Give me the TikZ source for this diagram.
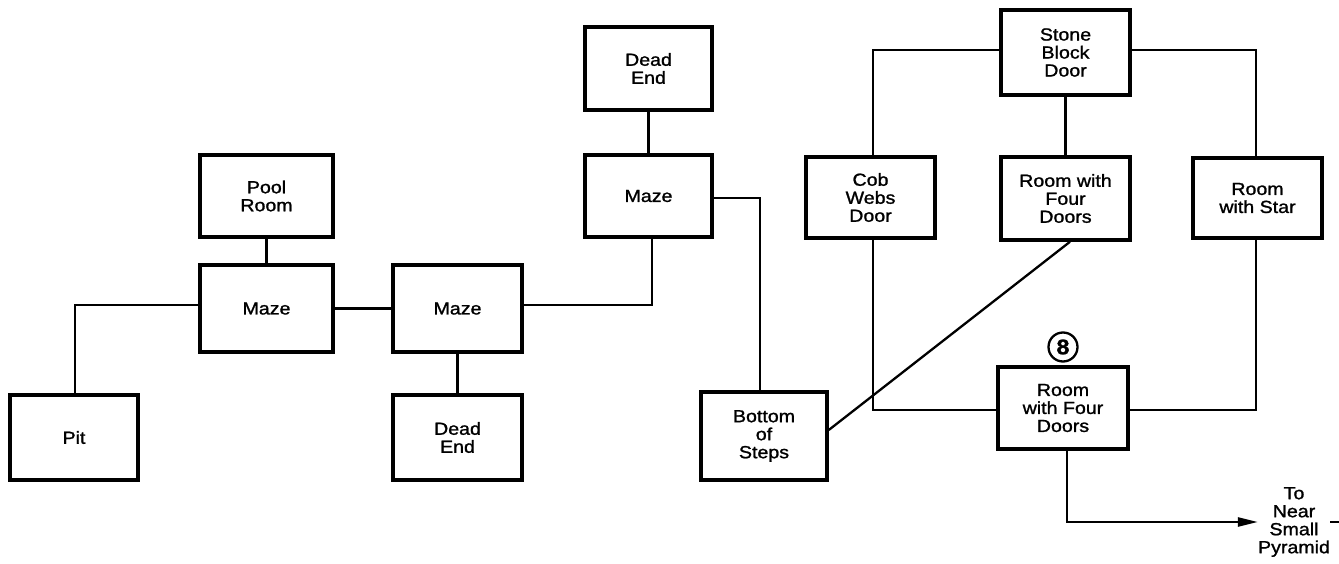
\documentclass[tikz,border=0pt]{standalone}
\usepackage{fontspec}
\setmainfont{Liberation Sans}[FakeStretch=1.12,FakeBold=1.3]
\usetikzlibrary{arrows.meta}
\begin{document}
\begin{tikzpicture}[x=1pt,y=-1pt,
  room/.style={draw,line width=3.5pt,inner sep=0pt,align=center,
    font=\fontsize{17.5}{18}\selectfont},
  link/.style={line width=2.3pt},
  lbl/.style={inner sep=0pt,align=center,font=\fontsize{17.5}{18}\selectfont}]
\useasboundingbox (0,0) rectangle (1339,564);
% boxes
\node[room,minimum width=127pt,minimum height=83pt] (deadtop) at (648.5,68.5) {Dead\\End};
\node[room,minimum width=133pt,minimum height=82pt] (pool) at (266.5,196) {Pool\\Room};
\node[room,minimum width=133pt,minimum height=87pt] (maze1) at (266.5,308.5) {Maze};
\node[room,minimum width=128pt,minimum height=85pt] (pit) at (74,437.5) {Pit};
\node[room,minimum width=129pt,minimum height=87pt] (maze2) at (457.5,308.5) {Maze};
\node[room,minimum width=129pt,minimum height=85pt] (deadlow) at (457.5,437.5) {Dead\\End};
\node[room,minimum width=127pt,minimum height=82pt] (maze3) at (648.5,196) {Maze};
\node[room,minimum width=126pt,minimum height=88pt] (bottom) at (764,436) {Bottom\\of\\Steps};
\node[room,minimum width=129pt,minimum height=81pt] (cob) at (870.5,197.5) {Cob\\Webs\\Door};
\node[room,minimum width=129pt,minimum height=85pt] (stone) at (1065.5,52.5) {Stone\\Block\\Door};
\node[room,minimum width=129pt,minimum height=83pt] (rwfd) at (1065.5,198.5) {Room with\\Four\\Doors};
\node[room,minimum width=129pt,minimum height=80pt] (star) at (1257.5,198) {Room\\with Star};
\node[room,minimum width=130pt,minimum height=82pt] (rwfde) at (1063,408) {Room\\with Four\\Doors};
\node[circle,draw,line width=2.3pt,minimum size=29pt,inner sep=0pt,
  font=\fontsize{21}{21}\selectfont\bfseries] (eight) at (1063,347) {8};
\node[lbl] (pyr) at (1294,522) {To\\Near\\Small\\Pyramid};
% junction coordinates
\coordinate (j1) at (75,305);
\coordinate (j2) at (652,305);
\coordinate (j3) at (760,198);
\coordinate (j4) at (873,50);
\coordinate (j5) at (1256,50);
\coordinate (j6) at (873,410);
\coordinate (j7) at (1256,410);
\coordinate (j8) at (1067,522);
\coordinate (dashend) at (1339,522);
% connectors
\draw[link] (pool.south) -- (maze1.north);
\draw[link] (maze1.west |- j1) -- (j1) -- (pit.north -| j1);
\draw[link] (maze1.east) -- (maze2.west);
\draw[link] (maze2.south) -- (deadlow.north);
\draw[link] (maze2.east |- j2) -- (j2) -- (maze3.south -| j2);
\draw[link] (maze3.north) -- (deadtop.south);
\draw[link] (maze3.east |- j3) -- (j3) -- (bottom.north -| j3);
\draw[link] (bottom.east |- 0,430) -- (rwfd.south -| 1070,0);
\draw[link] (stone.west |- j4) -- (j4) -- (cob.north -| j4);
\draw[link] (stone.east |- j5) -- (j5) -- (star.north -| j5);
\draw[link] (stone.south) -- (rwfd.north);
\draw[link] (cob.south -| j6) -- (j6) -- (rwfde.west |- j6);
\draw[link] (rwfde.east |- j7) -- (j7) -- (star.south -| j7);
\draw[link,-{Triangle[length=20pt,width=9pt]}] (rwfde.south -| j8) -- (j8) -- (pyr.west |- j8);
\draw[link] (pyr.east |- j8) -- (dashend);
\end{tikzpicture}
\end{document}
